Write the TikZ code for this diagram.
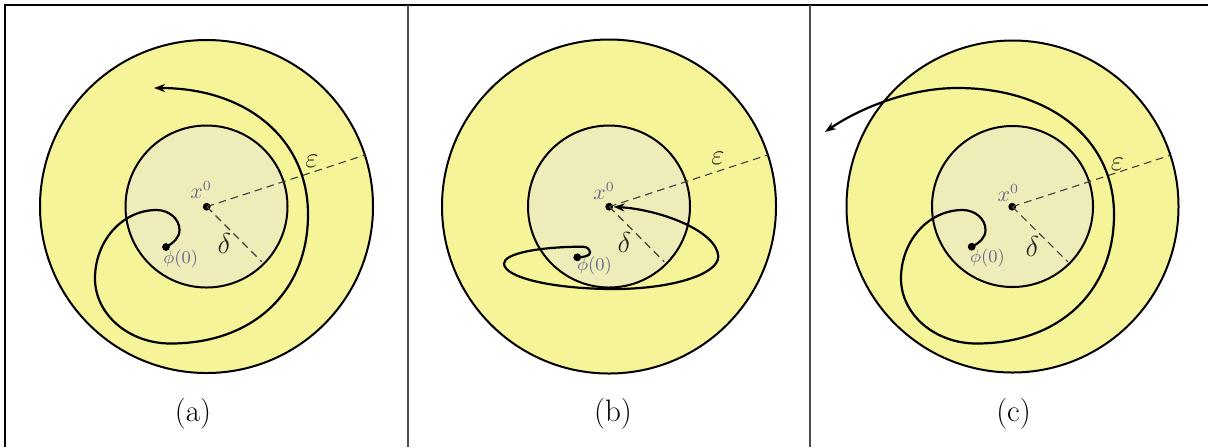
\documentclass[tikz,border=0pt]{standalone}
\usetikzlibrary{arrows.meta}
\definecolor{outery}{RGB}{246,244,152}
\definecolor{innery}{RGB}{238,236,184}
\definecolor{lblblue}{RGB}{105,105,140}
\begin{document}
\begin{tikzpicture}[x=0.5pt,y=-0.5pt,
  ring/.style={draw=black,line width=1pt},
  traj/.style={line width=1.1pt,line cap=round},
  tip/.style={-{Stealth[length=5.5pt,width=4pt]}},
  radline/.style={dash pattern=on 3.8pt off 2.5pt,line width=0.55pt,draw=black!75},
  dotnode/.style={circle,fill=black,inner sep=0pt,minimum size=3.9pt},
  ptlbl/.style={inner sep=0pt,text=lblblue},
  grklbl/.style={inner sep=0pt,text=black!85,font=\fontsize{14}{16}\selectfont},
  caplbl/.style={inner sep=0pt,font=\fontsize{15.5}{18}\selectfont},
  frameline/.style={line width=1pt,draw=black},
  divline/.style={line width=1pt,draw=black!70}]
\useasboundingbox (0,0) rectangle (1208,447);
\fill[white] (0,0) rectangle (1208,447);

% ---------------- panel (a)
\begin{scope}[shift={(206.5,206.5)}]
  \fill[outery] (0,0) circle[radius=166.5];
  \fill[innery] (0,0) circle[radius=81];
  \draw[ring] (0,0) circle[radius=166.5];
  \draw[ring] (0,0) circle[radius=81];
  \coordinate (ea) at (-18:166.5);
  \coordinate (da) at (45:78);
  \node[dotnode] (xa) at (0.2,0.2) {};
  \draw[radline] (xa.center) -- (ea);
  \draw[radline] (xa.center) -- (da);
  \node[dotnode] (pa) at (-40.5,40.5) {};
  \coordinate (ea6) at (-52.5,-118.5);
  \draw[traj,tip] (pa.center)
     .. controls (-33,36.5) and (-27,31) .. (-27,23.5)
     .. controls (-27,12.5) and (-37.3,3.5) .. (-50,3.5)
     .. controls (-84,3.5) and (-111.5,34.2) .. (-111.5,72)
     .. controls (-111.5,107.9) and (-77.7,137) .. (-36,137)
     .. controls (46.5,137) and (101.5,85.4) .. (101.5,8)
     .. controls (101.5,-67.9) and (39.9,-118.5) .. (ea6);
  \node[ptlbl,font=\fontsize{10.5}{12}\selectfont] (xla) at (-5.3,-16.5) {$x^0$};
  \node[ptlbl,font=\fontsize{9}{11}\selectfont] (pla) at (-25.8,52.5) {$\phi(0)$};
  \node[grklbl] (dla) at (18,36.5) {$\delta$};
  \node[grklbl] (ela) at (105.5,-45.5) {$\varepsilon$};
\end{scope}

% ---------------- panel (b)
\begin{scope}[shift={(609,206.5)}]
  \fill[outery] (0,0) circle[radius=167];
  \fill[innery] (0,0) circle[radius=81];
  \draw[ring] (0,0) circle[radius=167];
  \draw[ring] (0,0) circle[radius=81];
  \coordinate (eb) at (-18:167);
  \coordinate (db) at (45:78);
  \node[dotnode] (xb) at (0.2,0.2) {};
  \draw[radline] (xb.center) -- (eb);
  \draw[radline] (xb.center) -- (db);
  \node[dotnode] (pb) at (-31.7,50.8) {};
  \coordinate (eb6) at (4.6,0.3);
  \draw[traj,tip] (pb.center)
     .. controls (-26,50.8) and (-19,49.5) .. (-19,46.2)
     .. controls (-19,42.9) and (-22.1,40.2) .. (-26,40.2)
     .. controls (-69.6,40.2) and (-105,46.9) .. (-105,57)
     .. controls (-105,71.1) and (-55.8,82.5) .. (5,82.5)
     .. controls (62.6,82.5) and (109.3,67.9) .. (109.3,50)
     .. controls (108,24) and (50,3) .. (eb6);
  \node[ptlbl,font=\fontsize{10.5}{12}\selectfont] (xlb) at (-5,-15.5) {$x^0$};
  \node[ptlbl,font=\fontsize{9}{11}\selectfont] (plb) at (-14.5,59.5) {$\phi(0)$};
  \node[grklbl] (dlb) at (15.5,36) {$\delta$};
  \node[grklbl] (elb) at (109,-48.5) {$\varepsilon$};
\end{scope}

% ---------------- panel (c)
\begin{scope}[shift={(1012.5,206.5)}]
  \fill[outery] (0,0) circle[radius=166];
  \fill[innery] (0,0) circle[radius=80.5];
  \draw[ring] (0,0) circle[radius=166];
  \draw[ring] (0,0) circle[radius=80.5];
  \coordinate (ec) at (-18:166);
  \coordinate (dc) at (45:78);
  \node[dotnode] (xc) at (-0.3,0.2) {};
  \draw[radline] (xc.center) -- (ec);
  \draw[radline] (xc.center) -- (dc);
  \node[dotnode] (pc) at (-40.8,40.2) {};
  \coordinate (ec6) at (-187.5,-74.5);
  \draw[traj,tip] (pc.center)
     .. controls (-33,36.5) and (-27,31) .. (-27,23.5)
     .. controls (-27,12.5) and (-37.3,3.5) .. (-50,3.5)
     .. controls (-84,3.5) and (-111.5,34.2) .. (-111.5,72)
     .. controls (-111.5,107.9) and (-77.7,137) .. (-36,137)
     .. controls (46.5,137) and (101.5,85.4) .. (101.5,8)
     .. controls (101.5,-67.9) and (37,-118.5) .. (-55,-118.5)
     .. controls (-105,-118.5) and (-155,-97) .. (ec6);
  \node[ptlbl,font=\fontsize{10.5}{12}\selectfont] (xlc) at (-4.2,-13.8) {$x^0$};
  \node[ptlbl,font=\fontsize{9}{11}\selectfont] (plc) at (-25,51.8) {$\phi(0)$};
  \node[grklbl] (dlc) at (20,40) {$\delta$};
  \node[grklbl] (elc) at (105,-42) {$\varepsilon$};
\end{scope}

% ---------------- frame and captions
\draw[frameline] (5,447) -- (5,5) -- (1208,5);
\draw[divline] (408,5) -- (408,447);
\draw[divline] (810,5) -- (810,447);
\node[caplbl] (capa) at (193,414) {(a)};
\node[caplbl] (capb) at (613,414) {(b)};
\node[caplbl] (capc) at (1013.5,414) {(c)};
\end{tikzpicture}
\end{document}
